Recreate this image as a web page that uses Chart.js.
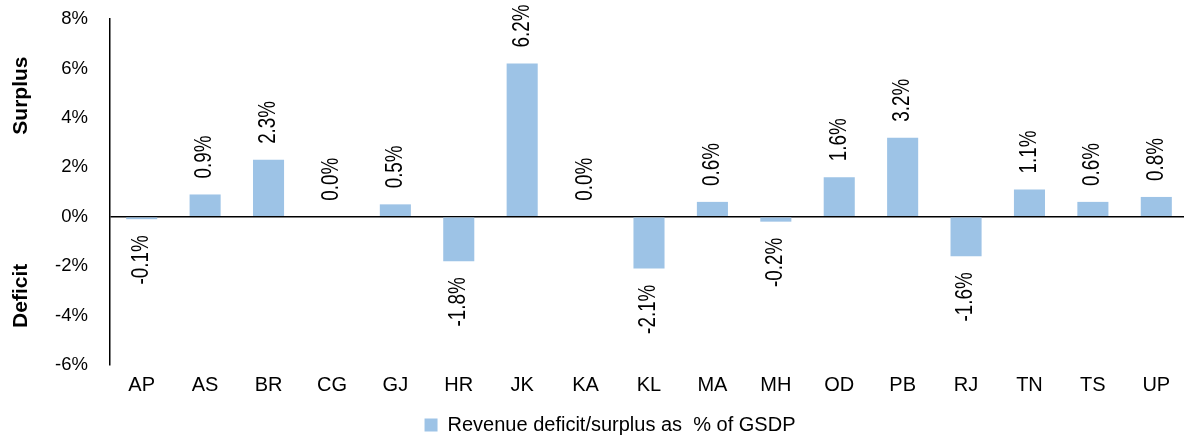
<!DOCTYPE html>
<html>
<head>
<meta charset="utf-8">
<script src="https://cdn.jsdelivr.net/npm/chart.js@4"></script>
<style>
html,body{margin:0;padding:0;background:#fff;overflow:hidden;}
#wrap{width:1190px;height:439px;position:relative;}
</style>
</head>
<body>
<div id="wrap"><canvas id="c"></canvas></div>
<script>
const categories = ["AP","AS","BR","CG","GJ","HR","JK","KA","KL","MA","MH","OD","PB","RJ","TN","TS","UP"];
const values = [-0.1,0.9,2.3,0.0,0.5,-1.8,6.2,0.0,-2.1,0.6,-0.2,1.6,3.2,-1.6,1.1,0.6,0.8];
const seriesName = "Revenue deficit/surplus as  % of GSDP";
const yTicks = [-6,-4,-2,0,2,4,6,8];
const sideTitles = ["Surplus","Deficit"];

const REG = '"Liberation Sans", Arial, sans-serif';

const dataLabels = {
  id:'dataLabels',
  afterDatasetsDraw(chart){
    const ctx = chart.ctx;
    const meta = chart.getDatasetMeta(0);
    ctx.save();
    ctx.font = '23px ' + REG;
    ctx.fillStyle = '#000';
    ctx.textBaseline = 'middle';
    meta.data.forEach((el,i)=>{
      const v = values[i];
      const txt = v.toFixed(1) + '%';
      ctx.save();
      if (v >= 0) {
        ctx.translate(el.x, Math.min(el.y, el.base) - 16);
        ctx.rotate(-Math.PI/2);
        ctx.scale(0.82,1);
        ctx.textAlign = 'left';
      } else {
        ctx.translate(el.x, Math.max(el.y, el.base) + 16);
        ctx.rotate(-Math.PI/2);
        ctx.scale(0.82,1);
        ctx.textAlign = 'right';
      }
      ctx.fillText(txt, 0, 0);
      ctx.restore();
    });
    ctx.restore();
  }
};

const sideTitlePlugin = {
  id:'sideTitles',
  afterDraw(chart){
    const ctx = chart.ctx;
    const y = chart.scales.y;
    ctx.save();
    ctx.font = 'bold 21px ' + REG;
    ctx.fillStyle = '#000';
    ctx.textAlign = 'center';
    ctx.textBaseline = 'middle';
    const pos = [y.getPixelForValue(4.9), y.getPixelForValue(-3.2)];
    sideTitles.forEach((t,i)=>{
      ctx.save();
      ctx.translate(21, pos[i]);
      ctx.rotate(-Math.PI/2);
      ctx.fillText(t,0,0);
      ctx.restore();
    });
    ctx.restore();
  }
};

const chart = new Chart(document.getElementById('c'), {
  type:'bar',
  data:{
    labels:categories,
    datasets:[{
      label:seriesName,
      data:values,
      backgroundColor:'#9dc3e6',
      borderWidth:0,
      barPercentage:0.49,
      categoryPercentage:1.0
    }]
  },
  options:{
    responsive:true,
    maintainAspectRatio:false,
    animation:false,
    layout:{padding:{top:19,right:2,left:0,bottom:-6}},
    plugins:{
      tooltip:{enabled:false},
      legend:{
        display:true,
        position:'bottom',
        labels:{
          color:'#000',
          font:{family:REG,size:20},
          boxWidth:13,
          boxHeight:13,
          padding:0
        }
      }
    },
    scales:{
      x:{
        grid:{display:false,drawTicks:false},
        border:{display:false},
        ticks:{color:'#000',font:{family:REG,size:20},padding:8,maxRotation:0,autoSkip:false},
        afterFit(s){ s.height = 50; s.paddingLeft = 0; s.paddingRight = 0; }
      },
      y:{
        min:-6,max:8,
        afterBuildTicks(s){ s.ticks = yTicks.map(v=>({value:v})); },
        grid:{
          drawTicks:false,
          color:c=> (c.tick && c.tick.value===0) ? '#000' : 'rgba(0,0,0,0)',
          lineWidth:1.5
        },
        border:{display:true,color:'#000',width:1.5},
        ticks:{color:'#000',font:{family:REG,size:18.5},padding:22,callback:v=>v+'%'},
        afterFit(s){ s.width = 110; s.paddingTop = 0; s.paddingBottom = 0; }
      }
    }
  },
  plugins:[dataLabels, sideTitlePlugin]
});

// nudge the legend slightly right to match the reference placement
const origLegendDraw = chart.legend.draw;
chart.legend.draw = function(){
  const ctx = chart.ctx;
  ctx.save();
  ctx.translate(16, 0);
  origLegendDraw.apply(this, arguments);
  ctx.restore();
};
chart.draw();
</script>
</body>
</html>
